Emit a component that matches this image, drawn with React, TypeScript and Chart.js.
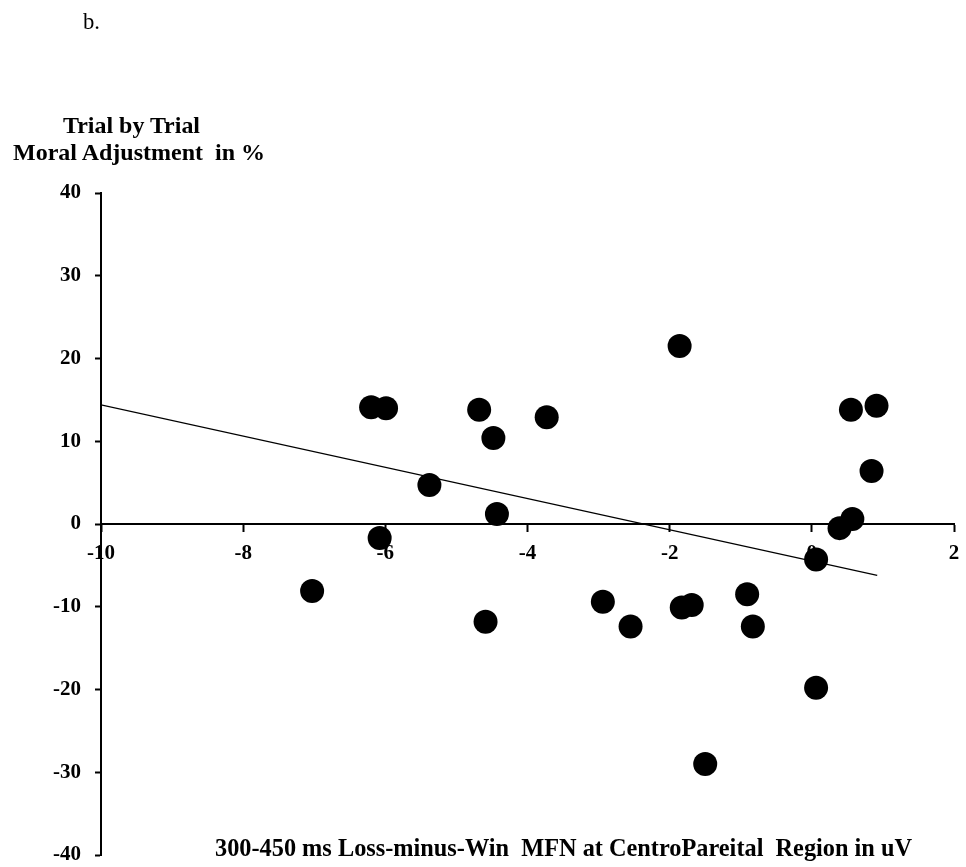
import React, { useEffect, useLayoutEffect, useRef } from "react";
import { Chart, registerables } from "chart.js";

Chart.register(...registerables);

// ---- Data ----
const mfnAmplitude = [
  -7.03, -6.08, -6.2, -5.99, -4.68, -4.48, -3.73, -5.38, -4.43, 0.06, 0.39, 0.57, -4.59,
  -2.94, -2.55, -1.83, -1.69, -0.91, -0.83, 0.55, 0.91, 0.84, -1.86, 0.06, -1.5,
];
const moralAdjustment = [
  -8.1, -1.7, 14.1, 14.0, 13.8, 10.4, 12.9, 4.7, 1.2, -4.3, -0.5, 0.6, -11.8,
  -9.4, -12.4, -10.1, -9.8, -8.5, -12.4, 13.8, 14.3, 6.4, 21.5, -19.8, -29.0,
];
const fitLineX = [-10, 0.92];
const fitLineY = [14.4, -6.2];
const xRange = [-10, 2];
const yRange = [-40, 40];
const xStep = 2;
const yStep = 10;

const panelLabel = "b.";
const yTitleLines = ["Trial by Trial", "Moral Adjustment  in %"];
const xTitle = "300-450 ms Loss-minus-Win  MFN at CentroPareital  Region in uV";

const SERIF = "'Liberation Serif', 'Times New Roman', serif";
const CANVAS_W = 966;
const CANVAS_H = 867;

function FitText(props: {
  text: string;
  left: number;
  top: number;
  width: number;
  size: number;
  weight: string;
}) {
  const ref = useRef<HTMLSpanElement>(null);
  useLayoutEffect(() => {
    const el = ref.current;
    if (!el) return;
    el.style.transform = "none";
    const w = el.getBoundingClientRect().width;
    if (w > 0) el.style.transform = `scaleX(${props.width / w})`;
  }, [props.text, props.width]);
  return (
    <span
      ref={ref}
      style={{
        position: "absolute",
        left: props.left,
        top: props.top,
        whiteSpace: "pre",
        display: "inline-block",
        transformOrigin: "0 0",
        fontFamily: SERIF,
        fontSize: props.size,
        fontWeight: props.weight as any,
        lineHeight: `${props.size}px`,
        color: "#000",
      }}
    >
      {props.text}
    </span>
  );
}

export default function App() {
  const canvasRef = useRef<HTMLCanvasElement>(null);

  useEffect(() => {
    const canvas = canvasRef.current;
    if (!canvas) return;
    const points = mfnAmplitude.map((x, i) => ({ x, y: moralAdjustment[i] }));
    const fit = fitLineX.map((x, i) => ({ x, y: fitLineY[i] }));
    const tickFont = { family: SERIF, size: 21, weight: "bold" as const };

    const chart = new Chart(canvas, {
      type: "scatter",
      data: {
        datasets: [
          {
            type: "line",
            data: fit,
            borderColor: "#000",
            borderWidth: 1.2,
            pointRadius: 0,
            fill: false,
            tension: 0,
          } as any,
          {
            data: points,
            backgroundColor: "#000",
            borderColor: "#000",
            borderWidth: 0,
            pointRadius: 12,
            pointHoverRadius: 12,
          },
        ],
      },
      options: {
        responsive: false,
        animation: false,
        events: [],
        layout: { padding: { left: 0, top: 193, right: 5, bottom: 10 } },
        plugins: {
          legend: { display: false },
          tooltip: { enabled: false },
          title: { display: false },
        },
        scales: {
          x: {
            type: "linear",
            min: xRange[0],
            max: xRange[1],
            position: { y: 0 } as any,
            afterFit: (scale: any) => {
              scale.height = 0;
              scale.paddingLeft = 0;
              scale.paddingRight = 0;
              scale.paddingTop = 0;
              scale.paddingBottom = 0;
            },
            ticks: {
              stepSize: xStep,
              font: tickFont,
              color: "#000",
              padding: 10,
              maxRotation: 0,
            },
            grid: {
              display: true,
              drawOnChartArea: false,
              drawTicks: true,
              tickLength: 7,
              tickColor: "#000",
              tickWidth: 2,
            },
            border: { display: true, color: "#000", width: 2 },
          },
          y: {
            type: "linear",
            min: yRange[0],
            max: yRange[1],
            position: "left",
            afterFit: (scale: any) => {
              scale.width = 101;
              scale.paddingTop = 0;
              scale.paddingBottom = 0;
            },
            ticks: {
              stepSize: yStep,
              font: tickFont,
              color: "#000",
              padding: 14,
            },
            grid: {
              display: true,
              drawOnChartArea: false,
              drawTicks: true,
              tickLength: 6,
              tickColor: "#000",
              tickWidth: 2,
            },
            border: { display: true, color: "#000", width: 2 },
          },
        },
      },
    });
    return () => chart.destroy();
  }, []);

  return (
    <div
      style={{
        position: "absolute",
        left: 0,
        top: 0,
        width: 966,
        height: 867,
        overflow: "hidden",
        background: "#fff",
      }}
    >
      <canvas
        ref={canvasRef}
        width={CANVAS_W}
        height={CANVAS_H}
        style={{ position: "absolute", left: 0, top: 0, width: CANVAS_W, height: CANVAS_H, display: "block" }}
      />
      <FitText text={panelLabel} left={83} top={9} width={17} size={24} weight="normal" />
      <FitText text={yTitleLines[0]} left={63} top={114} width={137} size={23} weight="bold" />
      <FitText text={yTitleLines[1]} left={13} top={141} width={252} size={23} weight="bold" />
      <FitText text={xTitle} left={215} top={835} width={697} size={26} weight="bold" />
    </div>
  );
}
